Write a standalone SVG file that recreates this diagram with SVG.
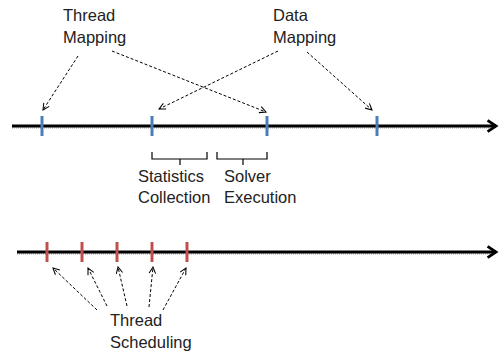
<svg xmlns="http://www.w3.org/2000/svg" width="500" height="354" viewBox="0 0 500 354">
<defs>
<style>
.t{font-family:"Liberation Sans",Arial,sans-serif;font-size:16.5px;fill:#222}
.axis{stroke:#000;stroke-width:3;fill:none}
.shadow{stroke:#bbb;stroke-width:1.5;stroke-dasharray:1 1;fill:none}
.tb{stroke:#4A7EBB;stroke-width:3}
.tr{stroke:#C0504D;stroke-width:3}
.dash{stroke:#000;stroke-width:1;stroke-dasharray:3 2;fill:none}
.br{stroke:#000;stroke-width:1.2;fill:none}
</style>
<marker id="ah" viewBox="0 0 10 10" refX="9" refY="5" markerWidth="8" markerHeight="8" markerUnits="userSpaceOnUse" orient="auto">
<path d="M1,1 L9,5 L1,9" fill="none" stroke="#000" stroke-width="1.3"/>
</marker>
<marker id="big" viewBox="0 0 10 10" refX="8" refY="5" markerWidth="14" markerHeight="14" markerUnits="userSpaceOnUse" orient="auto">
<path d="M2,1 L8,5 L2,9" fill="none" stroke="#000" stroke-width="2"/>
</marker>
</defs>
<rect width="500" height="354" fill="#fff"/>
<g id="axis-top">
<line class="shadow" x1="12" y1="128" x2="490" y2="128"/>
<line class="axis" x1="12" y1="126" x2="496" y2="126" marker-end="url(#big)"/>
</g>
<g id="axis-bottom">
<line class="shadow" x1="17" y1="254" x2="490" y2="254"/>
<line class="axis" x1="17" y1="252" x2="496" y2="252" marker-end="url(#big)"/>
</g>
<g id="ticks-top">
<line class="tb" x1="42" y1="116" x2="42" y2="136"/>
<line class="tb" x1="152" y1="116" x2="152" y2="136"/>
<line class="tb" x1="267" y1="116" x2="267" y2="136"/>
<line class="tb" x1="377" y1="116" x2="377" y2="136"/>
</g>
<g id="ticks-bottom">
<line class="tr" x1="47" y1="242" x2="47" y2="262"/>
<line class="tr" x1="82" y1="242" x2="82" y2="262"/>
<line class="tr" x1="117" y1="242" x2="117" y2="262"/>
<line class="tr" x1="152" y1="242" x2="152" y2="262"/>
<line class="tr" x1="187" y1="242" x2="187" y2="262"/>
</g>
<g id="thread-mapping">
<text class="t" x="63" y="21">Thread</text>
<text class="t" x="63" y="43">Mapping</text>
</g>
<g id="data-mapping">
<text class="t" x="273" y="21">Data</text>
<text class="t" x="273" y="43">Mapping</text>
</g>
<g id="statistics-collection">
<path class="br" d="M152,152 V159 H207 V152 M180,159 V165"/>
<text class="t" x="138" y="182">Statistics</text>
<text class="t" x="138" y="203">Collection</text>
</g>
<g id="solver-execution">
<path class="br" d="M217,152 V159 H267 V152 M243,159 V165"/>
<text class="t" x="224" y="182">Solver</text>
<text class="t" x="224" y="203">Execution</text>
</g>
<g id="thread-scheduling">
<text class="t" x="110" y="326">Thread</text>
<text class="t" x="110" y="348">Scheduling</text>
</g>
<g id="connectors">
<line class="dash" x1="78" y1="56" x2="43" y2="110" marker-end="url(#ah)"/>
<line class="dash" x1="112" y1="51" x2="266" y2="112" marker-end="url(#ah)"/>
<line class="dash" x1="278" y1="51" x2="159" y2="109" marker-end="url(#ah)"/>
<line class="dash" x1="307" y1="52" x2="372" y2="110" marker-end="url(#ah)"/>
<line class="dash" x1="97" y1="310" x2="53" y2="268" marker-end="url(#ah)"/>
<line class="dash" x1="107" y1="306" x2="88" y2="268" marker-end="url(#ah)"/>
<line class="dash" x1="127" y1="306" x2="118" y2="267" marker-end="url(#ah)"/>
<line class="dash" x1="149" y1="307" x2="153" y2="267" marker-end="url(#ah)"/>
<line class="dash" x1="163" y1="310" x2="186" y2="268" marker-end="url(#ah)"/>
</g>
</svg>
